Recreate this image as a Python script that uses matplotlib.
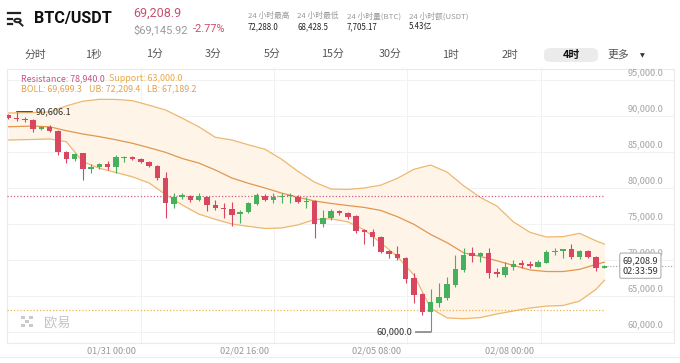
import numpy as np
import pandas as pd
import matplotlib
matplotlib.use('Agg')
import matplotlib.pyplot as plt
import matplotlib.dates as mdates
from matplotlib.patches import FancyBboxPatch, Rectangle, Circle
from matplotlib.lines import Line2D

plt.rcParams['font.family'] = ['Noto Sans CJK SC', 'DejaVu Sans']

# ---------------- data ----------------
first_candle = '2026-01-28 20:00'
opens = [90140, 89650, 89520, 89440, 88150, 88520, 87960, 84960, 83990, 84820,
         82680, 82920, 83290, 82960, 84170, 84260, 84030, 83650, 83060, 81350,
         77780, 78800, 78890, 78330, 78800, 77640, 77270, 77040, 76340, 76670,
         77780, 78930, 78330, 78800, 78880, 78800, 78100, 78240, 74960, 75880,
         76810, 76570, 76110, 74170, 73930, 73240, 71250, 70790, 70320, 67450,
         65280, 62820, 64070, 64720, 66530, 68610, 70920, 70600, 70920, 68380,
         67920, 69070, 69540, 69400, 69070, 69630, 71060, 71290, 71480, 70370,
         71290, 70460, 68930]
highs = [90280, 90606.1, 89850, 89600, 88650, 88700, 88100, 85100, 84900, 84900,
         83290, 83500, 83750, 84580, 84500, 84400, 84150, 83800, 83200, 82260,
         79260, 79350, 79000, 79260, 78950, 78330, 77960, 78100, 76900, 78000,
         79350, 79100, 79260, 79260, 79260, 79000, 78700, 78400, 76940, 77040,
         77000, 76700, 76200, 74300, 74260, 73400, 71400, 71940, 70450, 68150,
         65400, 65930, 66760, 67680, 70690, 71620, 71850, 71100, 71620, 68850,
         69770, 70000, 70000, 69900, 69950, 71390, 71600, 71550, 72288.0, 71450,
         71450, 70600, 69300]
lows = [89580, 89300, 89100, 87820, 88000, 87800, 84580, 83430, 83800, 81110,
        82120, 82700, 82500, 82040, 83650, 83850, 83500, 82900, 81120, 75790,
        77180, 78430, 78010, 78250, 76850, 76940, 75790, 74720, 75090, 76500,
        77600, 78150, 77870, 77870, 77960, 77900, 77200, 73010, 74620, 75560,
        76300, 75690, 73710, 72180, 71940, 71000, 70240, 70000, 66760, 63980,
        62360, 60000.0, 63510, 64440, 66300, 68400, 69770, 69770, 67450, 67680,
        67700, 68610, 68850, 68850, 69000, 69540, 70690, 70230, 70200, 70200,
        70300, 68428.5, 68850]
closes = [89720, 89560, 89400, 88150, 88520, 87920, 84960, 83990, 84720, 82680,
          82960, 83290, 82870, 84260, 84260, 83990, 83650, 83060, 81350, 77870,
          78800, 79030, 78330, 78890, 77640, 77180, 77040, 76250, 76710, 77870,
          79030, 78330, 78800, 78890, 78900, 78100, 78250, 74960, 75790, 76810,
          76480, 76020, 74070, 73930, 73150, 71150, 70790, 70230, 67360, 65140,
          62820, 64120, 64900, 66620, 68700, 70690, 70600, 70920, 68150, 68060,
          69070, 69400, 69310, 69170, 69770, 71060, 71290, 71480, 70370, 71290,
          70460, 68850, 69208.9]

# Bollinger bands read at selected candle indices
band_idx = [0, 3, 5, 7, 9, 11, 13, 15, 17, 19, 21, 23, 25, 27, 29, 31, 33, 35, 37,
            39, 41, 43, 45, 47, 49, 51, 53, 55, 57, 59, 61, 63, 65, 67, 69, 71, 72]
ub = [90420, 90480, 90560, 91400, 92050, 92320, 92300, 92130, 91500, 90830,
      89700, 88510, 87040, 86670, 86000, 85380, 84000, 82300, 80800, 79850,
      79800, 80000, 80400, 81350, 82600, 83190, 82200, 80300, 78700, 77500,
      75300, 73850, 73190, 73250, 73700, 72650, 72209.4]
mb = [88510, 88600, 88500, 87960, 87500, 87130, 86700, 86210, 85600, 84950,
      84100, 83470, 82500, 81390, 80650, 80000, 79300, 78700, 78200, 77850,
      77570, 77300, 76880, 76010, 74950, 73550, 72400, 71000, 70500, 69900,
      69250, 68620, 68400, 68400, 68700, 69400, 69699.3]
lb = [86670, 86740, 86810, 86430, 83650, 82740, 82150, 81550, 80700, 79100,
      77640, 76380, 75650, 75000, 74680, 74380, 74450, 74880, 75620, 75720,
      75300, 74180, 72380, 70450, 67900, 63300, 61950, 61850, 62000, 62500,
      62920, 63330, 63600, 63680, 64300, 65950, 67189.2]

resistance = 78940.0
support = 63000.0
index_price = '$69,145.92'
change_pct = '-2.77%'
countdown = '02:33:59'
y_ticks = [60000, 65000, 70000, 75000, 80000, 85000, 90000, 95000]
x_tick_labels = ['01/31 00:00', '02/02 16:00', '02/05 08:00', '02/08 00:00']
tabs = ['分时', '1秒', '1分', '3分', '5分', '15分', '30分', '1时', '2时', '4时']
stat_names = ['24 小时最高', '24 小时最低', '24 小时量(BTC)', '24 小时额(USDT)']
stat_values = ['72,288.0', '68,428.5', '7,705.17', '5.43亿']

# ---------------- figure ----------------
W, H = 680, 363
fig = plt.figure(figsize=(W / 100, H / 100), dpi=100)
fig.patch.set_facecolor('white')

def fx(px):
    return px / W

def fy(py):
    return 1 - py / H

RED = '#D9465F'
GREEN = '#46B05C'
PINK = '#C9506E'
NUMF = ['Roboto', 'DejaVu Sans']

# header icon
fig.add_artist(Line2D([fx(8), fx(20)], [fy(13), fy(13)], color='#222', lw=1.6))
fig.add_artist(Line2D([fx(8), fx(12)], [fy(18.5), fy(18.5)], color='#222', lw=1.6))
fig.add_artist(Line2D([fx(8), fx(12)], [fy(24), fy(24)], color='#222', lw=1.6))
fig.add_artist(Circle((fx(17.5), fy(20.5)), 3.2 / W, transform=fig.transFigure,
                      fill=False, ec='#222', lw=1.4))
fig.add_artist(Line2D([fx(19.8), fx(22.5)], [fy(23), fy(25.5)], color='#222', lw=1.4))

fig.text(fx(34), fy(19), 'BTC/USDT', fontsize=11.6, fontweight='bold', family=NUMF,
         color='#111', ha='left', va='center')
fig.text(fx(133), fy(13.5), f'{closes[-1]:,.1f}', fontsize=9.0, color=PINK,
         family=NUMF, ha='left', va='center')
fig.text(fx(133), fy(29.5), index_price, fontsize=7.9, color='#9A9A9A',
         family=NUMF, ha='left', va='center')
fig.text(fx(193), fy(29.5), change_pct, fontsize=7.9, color=PINK,
         family=NUMF, ha='left', va='center')

stat_x = [248, 297, 347, 409]
for sx, n, v in zip(stat_x, stat_names, stat_values):
    fig.text(fx(sx), fy(16), n, fontsize=5.6, color='#999999', ha='left', va='center')
    fig.text(fx(sx), fy(27), v, fontsize=5.7, color='#222222', ha='left', va='center')

# tabs
tab_x = [35, 93, 154, 213, 272, 332, 390, 450, 510, 571]
fig.add_artist(FancyBboxPatch((fx(544), fy(62)), fx(54), 14 / H, boxstyle='round,pad=0,rounding_size=0.012',
                              transform=fig.transFigure, fc='#EBEBEB', ec='none'))
for tx, t in zip(tab_x, tabs):
    bold = (t == '4时')
    fig.text(fx(tx), fy(55), t, fontsize=7.8, color='#111' if bold else '#555',
             fontweight='bold' if bold else 'normal', ha='center', va='center')
fig.text(fx(607), fy(55), '更多', fontsize=7.8, color='#555', ha='left', va='center')
fig.text(fx(640), fy(56), '▼', fontsize=4.5, color='#333', ha='left', va='center',
         family=['DejaVu Sans'])

# bottom separator
fig.add_artist(Line2D([0, 1], [fy(357), fy(357)], color='#EEEEEE', lw=0.8))

# ---------------- chart ----------------
ax = fig.add_axes([fx(7.3), fy(343), fx(674) - fx(7.3), (343 - 69) / H])
ax.set_facecolor('white')

times = pd.date_range(first_candle, periods=len(opens), freq='4h') + pd.Timedelta(hours=2)
x = mdates.date2num(times)
step = 4 / 24.0
ax.set_xlim(x[0] - 0.12 * step, x[0] + 80.4 * step)
ax.set_ylim(58472, 96528)

# grid
for v in y_ticks:
    ax.axhline(v, color='#F2F2F2', lw=0.7, zorder=0)
for f in [0.2, 0.4, 0.6, 0.8]:
    ax.plot([f, f], [0, 1], transform=ax.transAxes, color='#F2F2F2', lw=0.7, zorder=0)

# bollinger
bx = x[band_idx]
ax.fill_between(bx, lb, ub, color='#FEF4E8', lw=0, zorder=1)
ax.plot(bx, ub, color='#EDB86F', lw=0.9, zorder=2)
ax.plot(bx, lb, color='#EDB86F', lw=0.9, zorder=2)
ax.plot(bx, mb, color='#E0984F', lw=0.9, zorder=2)

# resistance/support
ax.hlines(resistance, ax.get_xlim()[0], x[-1], colors='#D2608E', linestyles=(0, (1, 1.6)), lw=0.9, zorder=3)
ax.hlines(support, ax.get_xlim()[0], x[-1], colors='#EDB455', linestyles=(0, (1, 1.6)), lw=0.9, zorder=3)

# candles
o = np.array(opens, float)
c = np.array(closes, float)
h = np.array(highs, float)
l = np.array(lows, float)
cols = [GREEN if cc >= oo else RED for oo, cc in zip(o, c)]
ax.vlines(x, l, h, colors=cols, lw=0.8, zorder=4)
ax.bar(x, np.maximum(np.abs(c - o), 140), bottom=np.minimum(o, c), width=step * 0.66,
       color=cols, zorder=5, lw=0)

# current price line and box
ax.hlines(c[-1], x[-1], ax.get_xlim()[1], colors='#A0A0A0', linestyles=(0, (1, 1.6)), lw=0.8, zorder=3)
ax.annotate(f'{c[-1]:,.1f}\n{countdown}', xy=(0.9495, c[-1]), xycoords=('axes fraction', 'data'),
            ha='center', va='center', fontsize=6.6, color='#333', linespacing=1.25,
            bbox=dict(boxstyle='round,pad=0.3,rounding_size=0.2', fc='white', ec='#AFAFAF', lw=0.8),
            zorder=8)

# high / low markers
ih = int(np.argmax(h))
il = int(np.argmin(l))
ax.annotate(f'{h[ih]:,.1f}', xy=(x[ih], h[ih]), xytext=(13.5, 0), textcoords='offset points',
            ha='left', va='center', fontsize=6.6, color='#333',
            arrowprops=dict(arrowstyle='-', color='#333', lw=0.7, shrinkA=0, shrinkB=0), zorder=8)
ax.annotate(f'{l[il]:,.1f}', xy=(x[il], l[il]), xytext=(-13, 0), textcoords='offset points',
            ha='right', va='center', fontsize=6.6, color='#333',
            arrowprops=dict(arrowstyle='-', color='#333', lw=0.7, shrinkA=0, shrinkB=0), zorder=8)

# legend text
def atext(px, py, s, color):
    fig.text(fx(px), fy(py), s, fontsize=6.4, color=color, ha='left', va='center', zorder=10)
atext(21, 78.5, f'Resistance: {resistance:,.1f}', '#C9528A')
atext(109, 78.5, f'Support: {support:,.1f}', '#E8AA4C')
atext(21, 89, f'BOLL: {mb[-1]:,.1f}', '#E2A050')
atext(89, 89, f'UB: {ub[-1]:,.1f}', '#E2A050')
atext(147, 89, f'LB: {lb[-1]:,.1f}', '#E2A050')

# y labels (drawn above the gridlines at the right)
for v in y_ticks:
    ax.annotate(f'{v:,.1f}', xy=(1, v), xycoords=('axes fraction', 'data'), xytext=(-8, 5.5),
                textcoords='offset points', ha='right', va='center', fontsize=6.6, color='#A5A5A5',
                zorder=7)
ax.set_yticks([])

# x ticks
tick_dates = mdates.date2num(pd.to_datetime(['2026/' + s for s in x_tick_labels]))
ax.set_xticks(tick_dates)
ax.set_xticklabels(x_tick_labels)
ax.tick_params(axis='x', length=0, labelsize=6.6, labelcolor='#999999', pad=2.5)

for s in ax.spines.values():
    s.set_color('#EBEBEB')
    s.set_linewidth(0.8)

# watermark
for dx, dy in [(0, 0), (8, 0), (4, 4), (0, 8), (8, 8)]:
    fig.add_artist(Rectangle((fx(21 + dx), fy(327 - dy)), 3.5 / W, 3.5 / H, transform=fig.transFigure,
                             fc='#CACACA', ec='none'))
fig.text(fx(44), fy(322.5), '欧易', fontsize=9.5, color='#C4C4C4', ha='left', va='center')

fig.savefig('out.png', dpi=100)
